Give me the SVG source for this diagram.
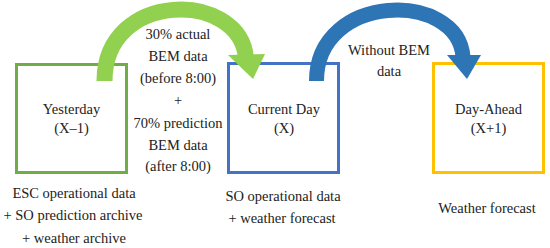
<svg xmlns="http://www.w3.org/2000/svg" width="550" height="248" viewBox="0 0 550 248">
<style>
text{font-family:"Liberation Serif","Times New Roman",serif;font-size:14.5px;fill:#222;text-anchor:middle}
.box{fill:none;stroke-width:3}
</style>
<rect width="550" height="248" fill="#fff"/>
<g id="yesterday">
<rect class="box" x="16.5" y="64.5" width="110" height="108" stroke="#70AD47"/>
<text x="71.5" y="114">Yesterday</text>
<text x="71.5" y="133">(X–1)</text>
<text x="74" y="198">ESC operational data</text>
<text x="73" y="220">+ SO prediction archive</text>
<text x="74" y="243">+ weather archive</text>
</g>
<g id="current-day">
<rect class="box" x="228.5" y="63.5" width="110" height="109" stroke="#4472C4"/>
<text x="284" y="114">Current Day</text>
<text x="284" y="133">(X)</text>
<text x="283" y="201">SO operational data</text>
<text x="282" y="223">+ weather forecast</text>
</g>
<g id="day-ahead">
<rect class="box" x="433.5" y="63.5" width="110" height="109" stroke="#FFC000"/>
<text x="488.5" y="114">Day-Ahead</text>
<text x="488.5" y="133">(X+1)</text>
<text x="487" y="213">Weather forecast</text>
</g>
<g id="connectors">
<path d="M104.5 81 C104.5 -10 240 -10 246 58" fill="none" stroke="#92D050" stroke-width="16"/>
<polygon points="228,55 265,54 253,79" fill="#92D050"/>
<path d="M316.5 81 C316.5 -8 458 -10 463 57" fill="none" stroke="#2E75B6" stroke-width="15"/>
<polygon points="447,55 481,55 467,79" fill="#2E75B6"/>
<g id="label-green">
<text x="178" y="39">30% actual</text>
<text x="178" y="61">BEM data</text>
<text x="178" y="83">(before 8:00)</text>
<text x="178" y="105">+</text>
<text x="178" y="127.5">70% prediction</text>
<text x="178" y="149.5">BEM data</text>
<text x="178" y="171">(after 8:00)</text>
</g>
<g id="label-blue">
<text x="389" y="55">Without BEM</text>
<text x="389" y="76">data</text>
</g>
</g>
</svg>
